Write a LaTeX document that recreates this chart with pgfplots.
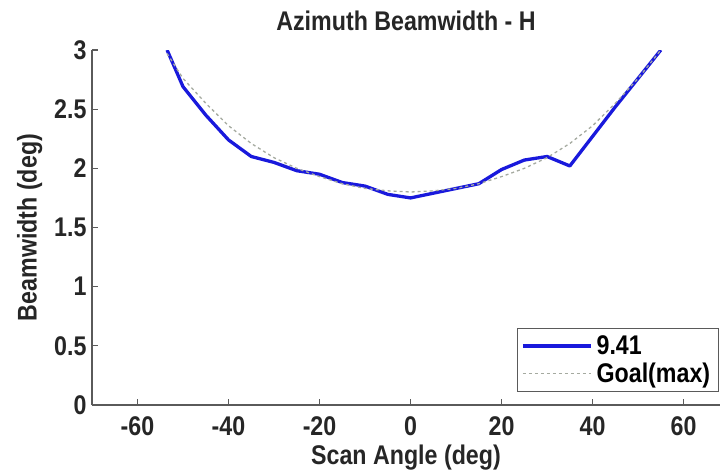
\documentclass[border=0pt]{standalone}
\usepackage{fontspec}
\setmainfont{Liberation Sans}[FakeStretch=0.86]
\usepackage{pgfplots}
\pgfplotsset{compat=1.18}
\definecolor{lineblue}{RGB}{25,25,220}
\definecolor{goalgray}{RGB}{165,170,160}
\definecolor{axgray}{RGB}{90,90,90}
\begin{document}
\begin{tikzpicture}
\useasboundingbox (-92pt,-67pt) rectangle (633pt,405pt);
\begin{axis}[
  scale only axis,
  width=628pt, height=355pt,
  xmin=-70, xmax=68, ymin=0, ymax=3,
  axis lines*=left,
  axis line style={axgray, line width=1.2pt, -},
  tick style={axgray, line width=1.2pt},
  tick align=inside,
  major tick length=6pt,
  xtick={-60,-40,-20,0,20,40,60},
  ytick={0,0.5,1,1.5,2,2.5,3},
  yticklabels={0,0.5,1,1.5,2,2.5,3},
  /pgf/number format/assume math mode=true,
  ticklabel style={font=\fontsize{27}{30}\selectfont\bfseries, text=black!85},
  xticklabel style={yshift=-8pt},
  yticklabel style={xshift=-2pt},
  title={Azimuth Beamwidth - H},
  title style={font=\fontsize{27}{30}\selectfont\bfseries, text=black!85, at={(axis description cs:0.5,1)}, yshift=10pt},
  xlabel={Scan Angle (deg)},
  ylabel={Beamwidth (deg)},
  label style={font=\fontsize{27}{30}\selectfont\bfseries, text=black!85},
  xlabel style={yshift=-2pt},
  ylabel style={yshift=5pt},
  legend style={at={(rel axis cs:0.998,0.037)}, anchor=south east,
    draw=axgray, line width=1.2pt, font=\fontsize{27}{30}\selectfont\bfseries,
    inner xsep=4pt, inner ysep=6pt, row sep=5pt,
    nodes={inner xsep=4pt, inner ysep=1pt}},
  legend cell align=left,
  legend image code/.code={\draw[#1] (0pt,0pt) -- (68pt,0pt);},
]
\addplot[lineblue, line width=3.3pt, line join=round] coordinates {
  (-53.5,3.00) (-50,2.69) (-45,2.45) (-40,2.24) (-35,2.10) (-30,2.05)
  (-25,1.98) (-20,1.95) (-15,1.88) (-10,1.85) (-5,1.78) (0,1.75)
  (5,1.79) (10,1.83) (15,1.87) (20,1.99) (25,2.07) (30,2.10)
  (35,2.02) (40,2.27) (45,2.52) (50,2.76) (55,3.00)
};
\addlegendentry{9.41}
\addplot[goalgray, line width=1.3pt, dashed] coordinates {
  (-53.5,2.97) (-50,2.76) (-45,2.55) (-40,2.36) (-35,2.21) (-30,2.09)
  (-25,2.00) (-20,1.93) (-15,1.87) (-10,1.83) (-5,1.81) (0,1.80)
  (5,1.81) (10,1.83) (15,1.87) (20,1.93) (25,2.00) (30,2.09)
  (35,2.21) (40,2.36) (45,2.55) (50,2.76) (55,3.00)
};
\addlegendentry{Goal(max)}
\end{axis}
\end{tikzpicture}
\end{document}
